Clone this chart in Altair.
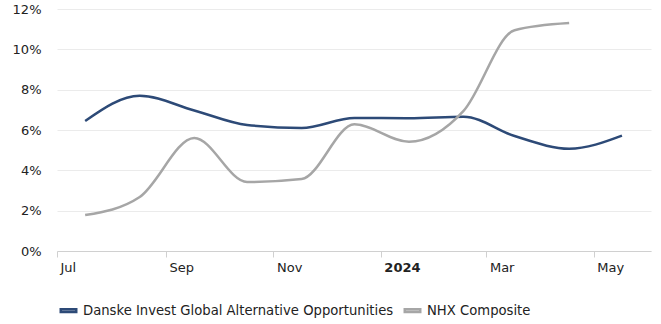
import altair as alt
import pandas as pd

dates = ["2023-07-17", "2023-08-17", "2023-09-17", "2023-10-17", "2023-11-17",
         "2023-12-17", "2024-01-17", "2024-02-17", "2024-03-17", "2024-04-17", "2024-05-17"]
danske = [6.45, 7.7, 6.97, 6.25, 6.1, 6.6, 6.58, 6.66, 5.7, 5.07, 5.72]
nhx = [1.78, 2.68, 5.6, 3.42, 3.57, 6.28, 5.42, 6.95, 10.95, 11.3, None]
series = ["Danske Invest Global Alternative Opportunities", "NHX Composite"]
colors = ["#2d4a77", "#a6a6a6"]

rows = []
for d, a, b in zip(dates, danske, nhx):
    rows.append({"date": d, "series": series[0], "value": a})
    if b is not None:
        rows.append({"date": d, "series": series[1], "value": b})
df = pd.DataFrame(rows)

FONT = "DejaVu Sans"
FS = 13

chart = alt.Chart(df).mark_line(interpolate="monotone").encode(
    x=alt.X("date:T",
            scale=alt.Scale(type="utc",
                            domain=[alt.DateTime(year=2023, month=7, date=1, utc=True),
                                    alt.DateTime(year=2024, month=6, date=2, hours=12, utc=True)]),
            axis=alt.Axis(title=None, grid=False,
                          tickCount=alt.TimeIntervalStep(interval="month", step=2),
                          labelExpr="utcmonth(datum.value) == 0 ? utcFormat(datum.value, '%Y') : utcFormat(datum.value, '%b')",
                          labelFontWeight={"condition": {"test": "utcmonth(datum.value) == 0", "value": "bold"}, "value": "normal"},
                          labelAlign="left", labelPadding=4, labelFlush=False, labelOffset=3,
                          domainColor="#d0d0d0", tickColor="#d0d0d0", tickSize=6,
                          labelFont=FONT, labelFontSize=FS, labelColor="#222")),
    y=alt.Y("value:Q",
            scale=alt.Scale(domain=[0, 12], nice=False),
            axis=alt.Axis(title=None, values=[0, 2, 4, 6, 8, 10, 12],
                          labelExpr="datum.value + '%'",
                          domain=False, ticks=False, labelPadding=16,
                          gridColor="#ebebeb", gridWidth=1,
                          labelFont=FONT, labelFontSize=FS, labelColor="#222")),
    color=alt.Color("series:N",
                    scale=alt.Scale(domain=series, range=colors),
                    legend=alt.Legend(title=None, orient="none", direction="horizontal",
                                      legendX=1, legendY=49 + 242,
                                      symbolType="M-0.86,-0.14H0.86V0.14H-0.86Z", symbolSize=324,
                                      labelOffset=4,
                                      columnPadding=5, padding=0, labelLimit=0,
                                      labelFont=FONT, labelFontSize=13.2, labelColor="#222")),
).properties(
    width=594, height=242,
    autosize=alt.AutoSizeParams(type="none"),
    padding={"left": 57, "top": 9, "right": 10, "bottom": 73},
).configure_view(stroke=None).configure_line(strokeWidth=2.5, strokeJoin="miter")

chart.save("out.html", embed_options={"renderer": "svg", "actions": False})
